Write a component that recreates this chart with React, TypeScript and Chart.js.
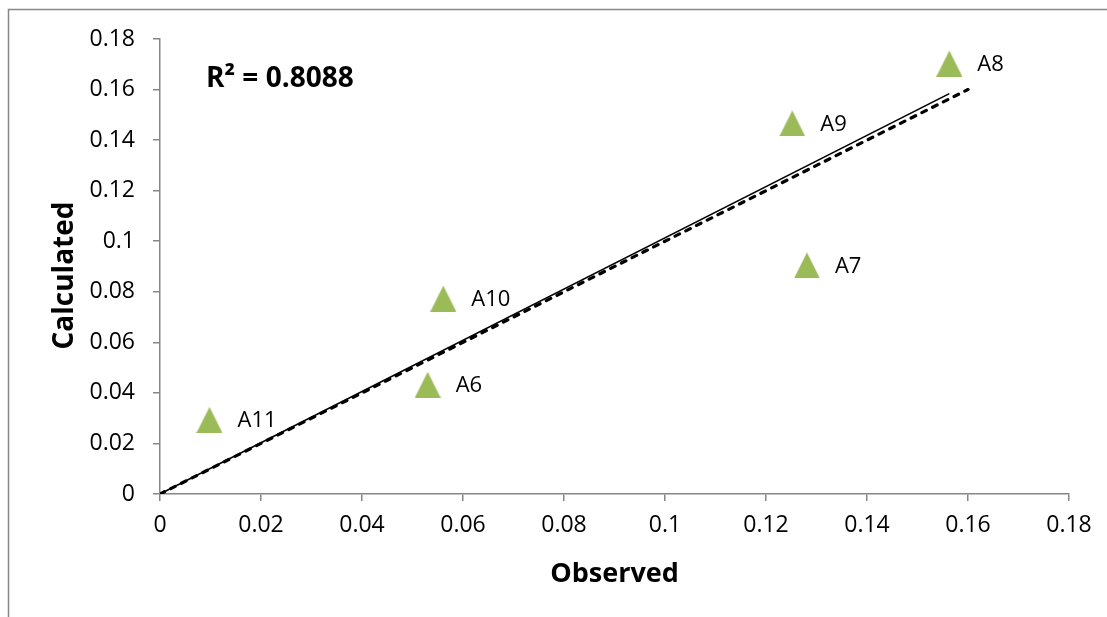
import React, { useEffect, useRef } from "react";
import { Chart, registerables } from "chart.js";

Chart.register(...registerables);

// ---- Data ----
const pointLabels = ["A11", "A6", "A10", "A7", "A9", "A8"];
const observed = [0.0098, 0.053, 0.0561, 0.1281, 0.1252, 0.1563];
const calculated = [0.0293, 0.0432, 0.0773, 0.0904, 0.1466, 0.1703];
const trendX = [0, 0.1563];
const trendY = [0, 0.1584];
const identityX = [0, 0.16];
const identityY = [0, 0.16];
const axisMin = 0;
const axisMax = 0.18;
const axisStep = 0.02;
const rSquaredText = "R² = 0.8088";
const xTitle = "Observed";
const yTitle = "Calculated";

const FONT = "'Open Sans', 'Noto Sans', sans-serif";
const AXIS_GRAY = "#868686";
const GREEN = "#9BBB59";

function makeTriangle(): HTMLCanvasElement {
  const c = document.createElement("canvas");
  c.width = 26;
  c.height = 26;
  const g = c.getContext("2d")!;
  g.fillStyle = GREEN;
  g.beginPath();
  g.moveTo(13, 0);
  g.lineTo(26, 26);
  g.lineTo(0, 26);
  g.closePath();
  g.fill();
  return c;
}

const fmt = (v: number) => String(Number(Number(v).toFixed(2)));

const overlayPlugin = {
  id: "overlay",
  beforeDraw(chart: any) {
    const ctx = chart.ctx;
    ctx.save();
    ctx.fillStyle = "#ffffff";
    ctx.fillRect(0, 0, chart.width, chart.height);
    ctx.strokeStyle = AXIS_GRAY;
    ctx.lineWidth = 1.5;
    ctx.strokeRect(8.5, 9.5, 1400, 900);
    ctx.restore();
  },
  afterDatasetsDraw(chart: any) {
    const ctx = chart.ctx;
    ctx.save();
    // point labels
    const meta = chart.getDatasetMeta(0);
    ctx.fillStyle = "#000";
    ctx.font = `22px ${FONT}`;
    ctx.textAlign = "left";
    ctx.textBaseline = "middle";
    meta.data.forEach((pt: any, i: number) => {
      ctx.fillText(pointLabels[i], pt.x + 28, pt.y + 1);
    });
    // R squared
    ctx.font = `bold 28px ${FONT}`;
    ctx.textBaseline = "alphabetic";
    ctx.fillText(rSquaredText, 206, 87);
    // x title
    ctx.font = `bold 27px ${FONT}`;
    ctx.textAlign = "center";
    ctx.fillText(xTitle, (chart.chartArea.left + chart.chartArea.right) / 2, 582);
    // y title
    ctx.font = `bold 28px ${FONT}`;
    ctx.translate(73, 275.5);
    ctx.rotate(-Math.PI / 2);
    ctx.fillText(yTitle, 0, 0);
    ctx.restore();
  },
};

export default function App() {
  const ref = useRef<HTMLCanvasElement | null>(null);

  useEffect(() => {
    document.body.style.margin = "0";
    const canvas = ref.current!;
    const tri = makeTriangle();
    const axisCommon = (afterFit: (s: any) => void) => ({
      type: "linear" as const,
      min: axisMin,
      max: axisMax,
      ticks: {
        stepSize: axisStep,
        color: "#000",
        font: { family: FONT, size: 23 },
        callback: (v: any) => fmt(v),
      },
      grid: {
        display: true,
        drawOnChartArea: false,
        drawTicks: true,
        tickLength: 7,
        color: AXIS_GRAY,
        lineWidth: 1.5,
      },
      border: { display: true, color: AXIS_GRAY, width: 1.5 },
      afterFit,
    });

    const xScale: any = axisCommon((s: any) => {
      s.height = 123;
    });
    xScale.ticks.padding = 11;
    xScale.ticks.maxRotation = 0;
    const yScale: any = axisCommon((s: any) => {
      s.width = 160;
    });
    yScale.ticks.padding = 18;

    const chart = new Chart(canvas, {
      type: "scatter",
      data: {
        datasets: [
          {
            data: observed.map((x, i) => ({ x, y: calculated[i] })),
            pointStyle: tri as any,
            pointRadius: 13,
            backgroundColor: GREEN,
            showLine: false,
          },
          {
            data: trendX.map((x, i) => ({ x, y: trendY[i] })),
            showLine: true,
            borderColor: "#000",
            borderWidth: 1.6,
            pointRadius: 0,
          },
          {
            data: identityX.map((x, i) => ({ x, y: identityY[i] })),
            showLine: true,
            borderColor: "#000",
            borderWidth: 3.2,
            borderDash: [5, 7],
            borderCapStyle: "round",
            pointRadius: 0,
          },
        ],
      },
      options: {
        responsive: false,
        animation: false,
        layout: { padding: { left: 0, top: 39, right: 38, bottom: 0 } },
        plugins: {
          legend: { display: false },
          tooltip: { enabled: false },
        },
        scales: { x: xScale, y: yScale },
      },
      plugins: [overlayPlugin],
    });
    return () => chart.destroy();
  }, []);

  return (
    <div style={{ position: "absolute", left: 0, top: 0, width: 1107, height: 617 }}>
      <canvas ref={ref} width={1107} height={617} />
    </div>
  );
}
